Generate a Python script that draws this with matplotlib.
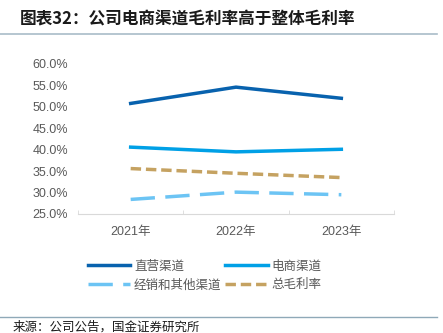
import matplotlib.pyplot as plt
from matplotlib.lines import Line2D

plt.rcParams['font.family'] = ['Liberation Sans', 'Noto Sans CJK SC', 'DejaVu Sans']

# data
anos = ['2021年', '2022年', '2023年']
zhiying = [50.8, 54.6, 52.0]
dianshang = [40.6, 39.5, 40.1]
jingxiao = [28.4, 30.1, 29.5]
zong = [35.6, 34.5, 33.5]
nomes = ['直营渠道', '电商渠道', '经销和其他渠道', '总毛利率']

fig = plt.figure(figsize=(4.43, 3.33), dpi=100)
ax = fig.add_axes([78/443, 1-214/333, 316/443, 150/333])

x = range(len(anos))
ax.plot(x, zhiying, color='#0862AE', lw=2.5, label=nomes[0])
ax.plot(x, dianshang, color='#00A0E6', lw=2.5, label=nomes[1])
ax.plot(x, jingxiao, color='#6CC4F4', lw=2.5, dashes=(7, 3), label=nomes[2])
ax.plot(x, zong, color='#C5A261', lw=2.5, dashes=(3, 1.4), label=nomes[3])

ax.set_xlim(-0.5, 2.5)
ax.set_ylim(25, 60)
ax.set_yticks([25, 30, 35, 40, 45, 50, 55, 60])
ax.set_yticklabels(['%.1f%%' % v for v in ax.get_yticks()])
ax.set_xticks(list(x))
ax.set_xticklabels(anos)
ax.set_xticks([-0.5, 0.5, 1.5, 2.5], minor=True)
ax.tick_params(axis='x', which='major', length=0, pad=9, labelsize=9, labelcolor='#595959')
ax.tick_params(axis='x', which='minor', direction='in', length=3, color='#d9d9d9')
ax.tick_params(axis='y', length=0, pad=7, labelsize=9, labelcolor='#595959')
for s in ['top', 'right', 'left']:
    ax.spines[s].set_visible(False)
ax.spines['bottom'].set_color('#d9d9d9')

# legenda: 2 colunas, ordem por linha
h, l = ax.get_legend_handles_labels()
ordem = [0, 2, 1, 3]
fig.legend([h[i] for i in ordem], [l[i] for i in ordem], ncol=2, loc='center',
           bbox_to_anchor=(0.462, 1-276/333), frameon=False,
           fontsize=9, handlelength=3.4, handletextpad=0.3, columnspacing=0.3,
           labelcolor='#595959', labelspacing=0.55)

# titulo e linhas
fig.text(20/443, 1-20/333, '图表32：公司电商渠道毛利率高于整体毛利率', fontsize=12,
         fontweight='bold', style='italic', family=['Noto Sans CJK SC'], color='#1a1a1a',
         va='center', ha='left')
fig.add_artist(Line2D([0, 437/443], [1-34/333, 1-34/333], color='#a9bcc8', lw=1.2))
fig.add_artist(Line2D([0, 437/443], [1-317/333, 1-317/333], color='#8fa9b8', lw=1.0))
fig.text(13/443, 1-327/333, '来源：公司公告，国金证券研究所', fontsize=9,
         family=['Noto Sans CJK SC'], color='#1a1a1a', va='center', ha='left')

fig.savefig('out.png', dpi=100)
